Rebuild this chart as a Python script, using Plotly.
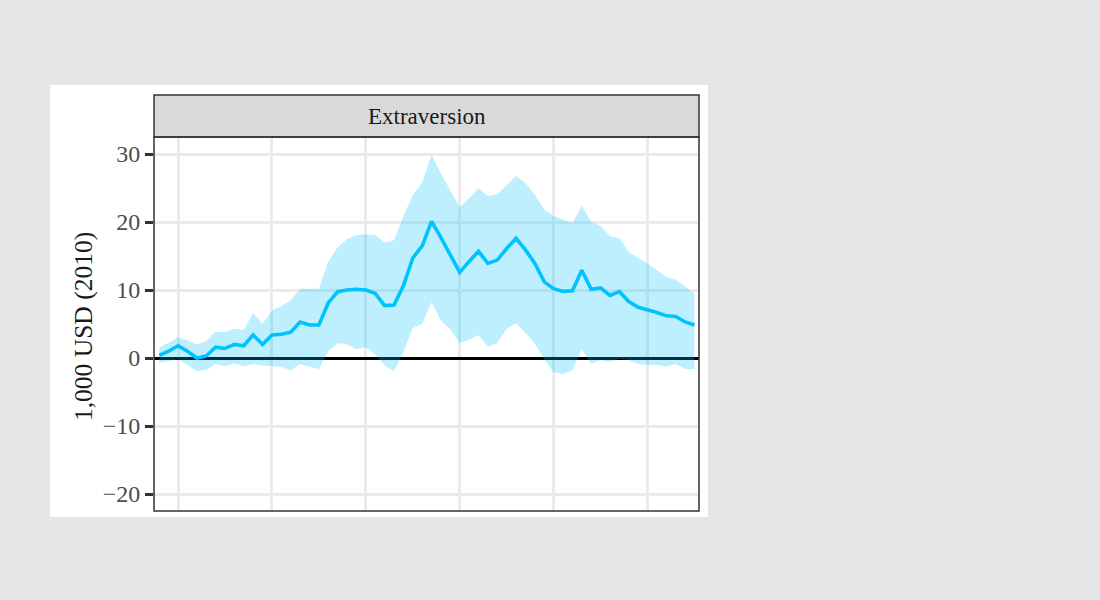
import plotly.graph_objects as go

# Data (x = age, values in 1,000 USD (2010))
ages = list(range(18, 76))
estimate = [0.4, 1.0, 1.8, 1.0, 0.0, 0.3, 1.6, 1.4, 2.0, 1.8,
            3.4, 2.0, 3.4, 3.5, 3.8, 5.3, 4.85, 4.85, 8.1, 9.75,
            10.0, 10.1, 10.0, 9.5, 7.7, 7.8, 10.6, 14.7, 16.5, 20.1,
            17.7, 15.2, 12.6, 14.2, 15.7, 13.9, 14.4, 16.1, 17.6, 15.9,
            13.9, 11.2, 10.2, 9.8, 9.9, 12.9, 10.1, 10.3, 9.2, 9.75,
            8.3, 7.45, 7.1, 6.7, 6.2, 6.1, 5.3, 4.85]
upper = [1.5, 2.3, 3.0, 2.6, 2.0, 2.5, 3.9, 3.8, 4.3, 4.1,
         6.6, 5.0, 7.0, 7.6, 8.5, 10.2, 10.2, 10.2, 14.2, 16.3,
         17.5, 18.1, 18.2, 18.1, 17.0, 17.3, 20.9, 24.0, 25.8, 29.9,
         27.1, 24.7, 22.2, 23.5, 25.0, 23.8, 24.1, 25.4, 26.8, 25.7,
         24.0, 21.8, 20.9, 20.4, 19.8, 22.4, 20.0, 19.4, 17.9, 17.6,
         15.6, 14.7, 13.9, 12.9, 11.9, 11.5, 10.5, 9.5]
lower = [-0.7, -0.5, -0.2, -1.0, -1.9, -1.8, -0.9, -1.2, -0.8, -1.2,
         -0.9, -1.1, -1.2, -1.3, -1.8, -0.9, -1.3, -1.6, 1.0, 2.2,
         2.0, 1.3, 1.6, 0.5, -1.1, -1.9, 0.9, 4.4, 5.0, 8.2,
         5.5, 4.2, 2.2, 2.7, 3.4, 1.7, 2.2, 4.3, 5.1, 3.7,
         2.1, -0.2, -2.1, -2.4, -1.8, 1.3, -0.9, -0.3, -0.6, -0.1,
         -0.3, -0.9, -1.0, -1.0, -1.3, -0.9, -1.6, -1.6]

y_ticks = [-20, -10, 0, 10, 20, 30]
x_grid = [20, 30, 40, 50, 60, 70]
facet_label = "Extraversion"
y_title = "1,000 USD (2010)"

SERIF = "Liberation Serif, Times New Roman, serif"
LINE_COLOR = "#00C2FF"
FILL_COLOR = "rgba(0,195,255,0.26)"

fig = go.Figure()
fig.add_trace(go.Scatter(x=ages, y=lower, mode="lines", line=dict(width=0),
                         hoverinfo="skip", showlegend=False))
fig.add_trace(go.Scatter(x=ages, y=upper, mode="lines", line=dict(width=0),
                         fill="tonexty", fillcolor=FILL_COLOR,
                         hoverinfo="skip", showlegend=False))
fig.add_trace(go.Scatter(x=ages, y=estimate, mode="lines",
                         line=dict(color=LINE_COLOR, width=3.6),
                         showlegend=False))

L, R, T, B = 154, 401, 137, 89
W, H = 1100, 600
pw, ph = W - L - R, H - T - B

def px_x(p):
    return (p - L) / pw

def px_y(p):
    return 1 - (p - T) / ph

fig.update_layout(
    width=W, height=H,
    margin=dict(l=L, r=R, t=T, b=B, autoexpand=False),
    paper_bgcolor="#e6e6e6",
    plot_bgcolor="white",
    showlegend=False,
    font=dict(family=SERIF, color="#1a1a1a"),
    xaxis=dict(range=[17.44, 75.48], tickvals=x_grid, showticklabels=False,
               showgrid=True, gridcolor="#ebebeb", gridwidth=2.5,
               zeroline=False, ticks="", showline=False, fixedrange=True),
    yaxis=dict(range=[-22.5, 32.5], tickvals=y_ticks,
               showgrid=True, gridcolor="#ebebeb", gridwidth=2.5,
               zeroline=True, zerolinecolor="black", zerolinewidth=3,
               ticks="outside", ticklen=8, tickwidth=2.5, tickcolor="#333333",
               tickfont=dict(family=SERIF, size=24, color="#4d4d4d"),
               showline=False, fixedrange=True),
    shapes=[
        # white figure background
        dict(type="rect", xref="paper", yref="paper",
             x0=px_x(50), x1=px_x(708), y0=px_y(517), y1=px_y(85),
             fillcolor="white", line=dict(width=0), layer="below"),
        # facet strip
        dict(type="rect", xref="paper", yref="paper",
             x0=0, x1=1, y0=1, y1=px_y(95),
             fillcolor="#d9d9d9", line=dict(color="#333333", width=1.5),
             layer="above"),
        # panel border
        dict(type="rect", xref="paper", yref="paper",
             x0=0, x1=1, y0=0, y1=1,
             fillcolor="rgba(0,0,0,0)", line=dict(color="#333333", width=1.5),
             layer="above"),
    ],
    annotations=[
        dict(text=facet_label, xref="paper", yref="paper",
             x=0.5, y=(1 + px_y(95)) / 2, xanchor="center", yanchor="middle",
             showarrow=False, font=dict(family=SERIF, size=23, color="#1a1a1a")),
        dict(text=y_title, xref="paper", yref="paper",
             x=px_x(83), y=px_y(327), xanchor="center", yanchor="middle",
             textangle=-90, showarrow=False,
             font=dict(family=SERIF, size=25.5, color="#1a1a1a")),
    ],
)

fig.write_html("out.html",
               config={"displayModeBar": False},
               post_script="document.body.style.margin='0';document.body.style.background='#e6e6e6';")
